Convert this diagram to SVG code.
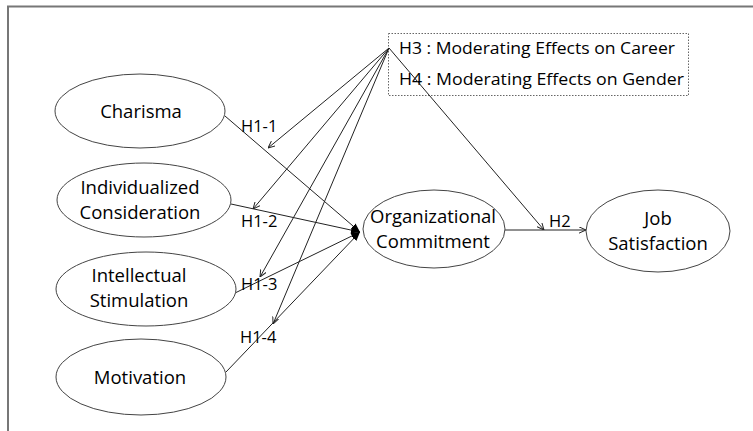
<svg xmlns="http://www.w3.org/2000/svg" width="753" height="431" viewBox="0 0 753 431">
<style>
.node ellipse{fill:#fff;stroke:#444;stroke-width:1}
.t{font-family:"Open Sans","Liberation Sans",sans-serif;font-size:18.5px;fill:#000;text-anchor:middle}
.lbl{font-family:"Open Sans","Liberation Sans",sans-serif;font-size:16.5px;fill:#000}
.c line{stroke:#222;stroke-width:1}
</style>
<defs>
<marker id="fill" viewBox="0 0 10 10" refX="10" refY="5" markerWidth="9" markerHeight="9" markerUnits="userSpaceOnUse" orient="auto">
<path d="M0,1 L10,5 L0,9 Z" fill="#000"/>
</marker>
<marker id="open" viewBox="0 0 10 10" refX="10" refY="5" markerWidth="7" markerHeight="7" markerUnits="userSpaceOnUse" orient="auto">
<path d="M0,0.5 L10,5 L0,9.5" fill="none" stroke="#222" stroke-width="1.4"/>
</marker>
</defs>
<rect width="753" height="431" fill="#fff"/>
<path d="M8,431 V6.5 H753" fill="none" stroke="#777" stroke-width="2"/>
<g id="legend">
<rect x="388.5" y="33.5" width="300" height="62" fill="none" stroke="#666" stroke-width="1" stroke-dasharray="1.5,1.5"/>
<text class="lbl" x="399" y="54" font-size="17.5" textLength="276" lengthAdjust="spacingAndGlyphs">H3 : Moderating Effects on Career</text>
<text class="lbl" x="399" y="85" font-size="17.5" textLength="285" lengthAdjust="spacingAndGlyphs">H4 : Moderating Effects on Gender</text>
</g>
<g class="c" id="connectors">
<line x1="225" y1="116" x2="360" y2="232" marker-end="url(#fill)"/>
<line x1="231" y1="204" x2="360" y2="232" marker-end="url(#fill)"/>
<line x1="235" y1="293" x2="360" y2="232" marker-end="url(#fill)"/>
<line x1="226" y1="372" x2="360" y2="232" marker-end="url(#fill)"/>
<line x1="389" y1="48" x2="268" y2="148" marker-end="url(#open)"/>
<line x1="389" y1="48" x2="253" y2="209" marker-end="url(#open)"/>
<line x1="389" y1="48" x2="260" y2="277" marker-end="url(#open)"/>
<line x1="389" y1="48" x2="273" y2="324" marker-end="url(#open)"/>
<line x1="389" y1="48" x2="544" y2="230" marker-end="url(#open)"/>
<line x1="505" y1="230" x2="586" y2="230" marker-end="url(#open)"/>
</g>
<g id="labels">
<text class="lbl" x="241" y="132">H1-1</text>
<text class="lbl" x="241" y="227">H1-2</text>
<text class="lbl" x="241" y="290">H1-3</text>
<text class="lbl" x="240" y="343">H1-4</text>
<text class="lbl" x="549" y="227">H2</text>
</g>
<g class="node" id="charisma">
<ellipse cx="140" cy="111" rx="85" ry="37"/>
<text class="t" x="141" y="118">Charisma</text>
</g>
<g class="node" id="individualized">
<ellipse cx="144" cy="200" rx="87" ry="37"/>
<text class="t" x="140" y="194">Individualized</text>
<text class="t" x="140" y="219">Consideration</text>
</g>
<g class="node" id="intellectual">
<ellipse cx="146" cy="289" rx="90" ry="37"/>
<text class="t" x="139" y="282">Intellectual</text>
<text class="t" x="139" y="307">Stimulation</text>
</g>
<g class="node" id="motivation">
<ellipse cx="141" cy="377" rx="85" ry="38"/>
<text class="t" x="140" y="384">Motivation</text>
</g>
<g class="node" id="organizational">
<ellipse cx="434" cy="229" rx="71" ry="39"/>
<text class="t" x="433" y="223">Organizational</text>
<text class="t" x="433" y="248">Commitment</text>
</g>
<g class="node" id="job">
<ellipse cx="658" cy="231" rx="72" ry="41"/>
<text class="t" x="658" y="225">Job</text>
<text class="t" x="658" y="250">Satisfaction</text>
</g>
</svg>
